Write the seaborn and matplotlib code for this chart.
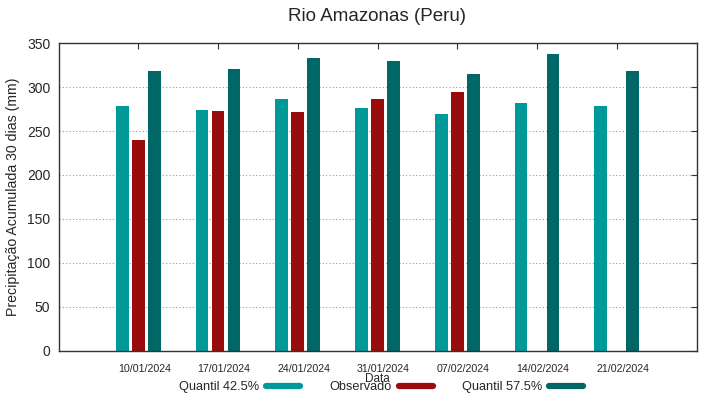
import numpy as np
import pandas as pd
import matplotlib
matplotlib.use("Agg")
import matplotlib.pyplot as plt
import matplotlib.transforms as mtransforms
from matplotlib.lines import Line2D
import seaborn as sns

dates = ["10/01/2024", "17/01/2024", "24/01/2024", "31/01/2024",
         "07/02/2024", "14/02/2024", "21/02/2024"]
q425 = [278, 274, 286, 276, 269, 282, 279]
observado = [240, 273, 272, 287, 294, np.nan, np.nan]
q575 = [318, 321, 333, 330, 315, 338, 318]

series_names = ["Quantil 42.5%", "Observado", "Quantil 57.5%"]
colors = ["#009999", "#990c0c", "#006666"]

df = pd.DataFrame({
    "Data": dates * 3,
    "valor": q425 + observado + q575,
    "serie": [series_names[0]] * 7 + [series_names[1]] * 7 + [series_names[2]] * 7,
})

sns.set_style("white")
plt.rcParams['font.family'] = ['Liberation Sans', 'DejaVu Sans']

fig, ax = plt.subplots(figsize=(7.19, 3.99), dpi=100)
fig.subplots_adjust(left=58.5/719, right=696.5/719, top=1-43.3/399, bottom=1-350.5/399)

sns.barplot(data=df, x="Data", y="valor", hue="serie", order=dates,
            hue_order=series_names, palette=colors, width=0.6, gap=0.2,
            saturation=1, linewidth=0, legend=False, ax=ax, errorbar=None)

ax.set_xlim(-1, 7)
ax.set_ylim(0, 350)
ax.set_yticks(range(0, 351, 50))
ax.yaxis.grid(True, linestyle=(0, (1, 2)), color="#999999", linewidth=0.8)
ax.set_axisbelow(True)
for s in ax.spines.values():
    s.set_color("#333333")
    s.set_linewidth(1.0)
    s.set_visible(True)
ax.tick_params(axis="both", direction="in", top=True, right=True, length=4,
               color="#333333")
ax.tick_params(axis="x", labelsize=7.7, pad=10)
ax.tick_params(axis="y", labelsize=10, pad=6)
shift = mtransforms.ScaledTranslation(6/100, 0, fig.dpi_scale_trans)
for lab in ax.get_xticklabels():
    lab.set_transform(lab.get_transform() + shift)
ax.set_xlabel("Data", fontsize=8.5, labelpad=-1)
ax.set_ylabel("Precipitação Acumulada 30 dias (mm)", fontsize=10.2, labelpad=5)
ax.set_title("Rio Amazonas (Peru)", fontsize=13.5, pad=16)

handles = [Line2D([0], [0], color=c, lw=4.5) for c in colors]
fig.legend(handles, series_names, loc="center", ncol=3, frameon=False,
           markerfirst=False, handlelength=2.65, columnspacing=2.3,
           handletextpad=0.55, fontsize=9.2,
           bbox_to_anchor=(381/719, 1-387/399))

fig.savefig("out.png", dpi=100)
